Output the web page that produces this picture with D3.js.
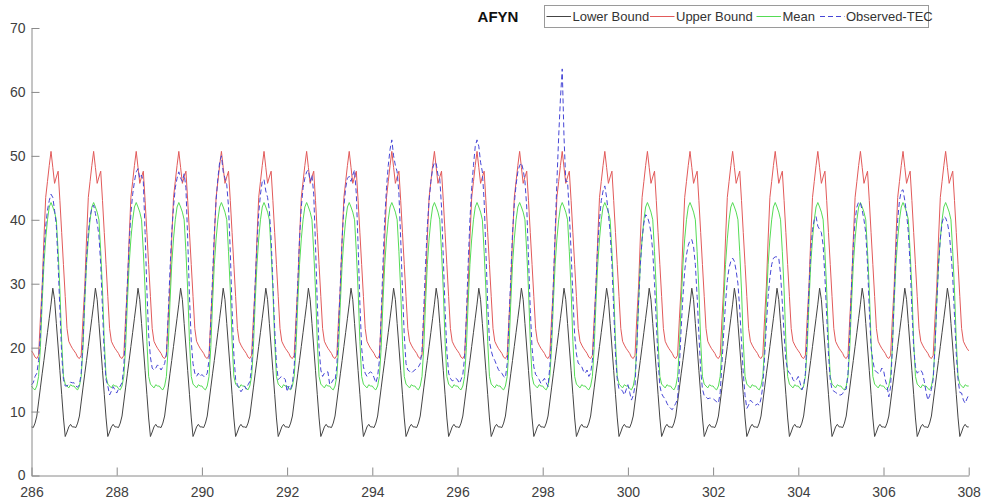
<!DOCTYPE html>
<html>
<head>
<meta charset="utf-8">
<script src="https://cdn.jsdelivr.net/npm/d3@7"></script>
<style>
  body { margin: 0; background: #fff; }
  svg { display: block; font-family: "Liberation Sans", Arial, sans-serif; }
</style>
</head>
<body>
<div id="wrapper"></div>
<script>
// Data
const days = [286, 287, 288, 289, 290, 291, 292, 293, 294, 295, 296, 297, 298, 299, 300, 301, 302, 303, 304, 305, 306, 307]
const hours = [0, 1, 2, 3, 4, 5, 6, 7, 8, 9, 10, 11, 12, 13, 14, 15, 16, 17, 18, 19, 20, 21, 22, 23]

// daily profiles of the bounds and the mean (same every day)
const lowerProfile = [7.6, 7.5, 8.2, 9.3, 11.5, 13.7, 15.9, 18.0, 20.2, 22.4, 24.6, 26.8, 29.3, 27.5, 23.8, 20.1, 16.4, 12.7, 9.0, 6.1, 6.8, 7.6, 8.0, 7.6]
const upperProfile = [19.5, 19.1, 18.5, 18.3, 18.8, 24.5, 29.5, 37.0, 43.5, 46.0, 48.5, 50.7, 48.2, 45.7, 46.7, 47.6, 43.0, 38.0, 33.0, 28.0, 23.0, 21.0, 20.4, 19.9]
const meanProfile = [14.0, 13.6, 13.4, 14.0, 15.5, 20.0, 27.0, 33.0, 37.0, 40.0, 42.0, 42.7, 42.0, 41.2, 40.0, 35.0, 29.0, 21.0, 15.5, 14.3, 14.0, 13.7, 14.2, 14.0]

// observed TEC, one row per day, hourly
const observedTec = [
  [14.2, 14.5, 15.5, 16, 18, 22, 29, 35, 39, 41.5, 43, 44, 43.5, 41.5, 39, 33, 26, 19, 15, 14, 14, 14.3, 14.6, 14.5],
  [14.5, 14, 13.8, 14.2, 16, 21, 28, 34, 38, 40.5, 41.8, 42.3, 41, 39.5, 37.5, 33, 26, 19, 15, 14, 12.6, 13.2, 13.9, 13.4],
  [12.9, 13.5, 14, 14.5, 17, 23, 30, 36, 41, 44, 46, 47.5, 48, 46.5, 47, 46, 38, 29, 22, 18.5, 16.8, 16.5, 16.8, 17.3],
  [17, 16.5, 17, 17.5, 19, 25, 32, 38, 42, 45, 46.5, 47.5, 46.5, 46, 47.2, 45, 37, 28, 21, 17.5, 16, 15.5, 16, 15.5],
  [15.8, 15.5, 15.5, 16, 18, 24, 31, 38, 43, 46.5, 49, 50, 47.5, 46.5, 45.5, 42, 35, 26, 19, 15, 14.2, 13.6, 13.1, 13.5],
  [14, 13.5, 14.2, 14.7, 17, 23, 30, 36, 41, 44, 46, 46.3, 44.5, 43.5, 41.5, 37, 30, 23, 17.5, 15, 15.3, 15.5, 15.3, 15],
  [13.1, 14, 13.5, 14.5, 17, 23, 30, 37, 42, 45, 46.5, 47.5, 47.8, 46, 47, 44, 36, 27, 20, 16.5, 15.5, 16, 16.2, 16.2],
  [14.2, 14.5, 15, 14.8, 17, 23, 30, 37, 42, 45, 46.5, 46.8, 46, 47, 47.8, 44, 36, 27, 20, 17, 16, 15.5, 16, 16.2],
  [16, 15.3, 14.5, 15.5, 18, 25, 33, 40, 45, 48.5, 51, 52.5, 50, 48.5, 47.5, 44, 37, 29, 22, 17.5, 16.5, 16.3, 16, 16.3],
  [16.5, 16.8, 17, 17.5, 19.5, 26, 33, 39, 43, 46, 48, 49, 48.8, 47, 46.5, 42, 34, 26, 19.5, 16, 15.2, 14.8, 14.9, 15.2],
  [15, 14.4, 15, 15.8, 18.5, 25, 33, 40, 45, 48.5, 51.5, 52.5, 51.5, 49, 47.5, 43, 35, 27, 21, 19.5, 18.5, 18, 17.3, 16.6],
  [16.2, 16, 15.5, 15.3, 17.5, 24, 31, 38, 42.5, 45.5, 47.5, 48.5, 48.9, 47.8, 46, 42, 34, 26, 20, 17, 15.8, 15.5, 15, 14.4],
  [14.8, 15.2, 14.5, 13.9, 17, 22, 30, 38, 46, 53, 59, 63.6, 53, 46, 46, 41, 35, 28, 22, 19, 17.6, 17.3, 17, 16.3],
  [16, 16.5, 15.5, 16, 18, 23, 30, 36, 40, 43, 44.5, 45.3, 43.5, 41, 38, 33, 26, 19, 15, 13.5, 13.5, 13.2, 12.6, 13.4],
  [14.2, 13, 11.8, 12.5, 14, 20, 27, 33, 37, 39.5, 40.8, 40.5, 39.5, 38, 35, 30, 24, 18, 14, 12.8, 12.3, 12, 11.3, 10.8],
  [10.5, 10.3, 10.8, 11.3, 12, 17, 23, 28, 32, 34.5, 36, 36.8, 36.9, 35.8, 33, 28, 22, 16.5, 13.5, 12.5, 12.3, 12, 12.1, 12.1],
  [12, 11.8, 11.5, 11.3, 13, 17.5, 22.5, 27, 30.5, 32.5, 33.5, 34, 33.5, 32, 30, 26, 21, 16, 12.5, 10.5, 11, 11.8, 11.5, 11.2],
  [11, 11.2, 11, 12, 14, 18.5, 23.5, 28, 31, 33, 34, 34.2, 34.2, 34, 31.5, 27, 22, 18, 16.5, 16, 15.8, 15, 14.7, 15],
  [15.5, 14.5, 13.4, 14, 16, 22, 29, 35, 38.5, 40, 40.5, 39, 38.5, 38, 36, 31, 25, 19, 15, 13.4, 13.2, 13, 12.8, 12.6],
  [12.6, 12.8, 13.4, 13.5, 16, 22, 30, 36, 40, 42, 42.8, 42.6, 41.5, 40, 38, 33, 26, 20, 18, 16.5, 16.2, 16, 16, 16.8],
  [16.5, 15, 14, 12.3, 13.9, 20, 28, 35, 40, 43, 44.5, 44.7, 43, 41, 38, 33, 26, 20, 17, 16, 16.3, 16.5, 16, 14.7],
  [13, 11.8, 12.5, 13.5, 15, 20, 27, 33, 37, 39.5, 40.5, 40.3, 39.5, 38, 35, 31, 25, 19, 15, 13, 12.9, 11.8, 11.3, 12]
]
const observedEnd = 12.6   // value at 308.0
const endDay = 308

const xTicks = [286, 288, 290, 292, 294, 296, 298, 300, 302, 304, 306, 308]
const yTicks = [0, 10, 20, 30, 40, 50, 60, 70]

const seriesNames = ["Lower Bound", "Upper Bound", "Mean", "Observed-TEC"]
const seriesColors = ["#444444", "#e25a5a", "#55dc55", "#4646d6"]
const seriesDash = [null, null, null, "5 3"]

// build the point lists
function tileProfile(profile) {
  const pts = []
  days.forEach(d => hours.forEach((h, i) => pts.push({ t: d + h / 24, v: profile[i] })))
  pts.push({ t: endDay, v: profile[0] })
  return pts
}
const observedPts = []
days.forEach((d, di) => hours.forEach((h, i) => observedPts.push({ t: d + h / 24, v: observedTec[di][i] })))
observedPts.push({ t: endDay, v: observedEnd })

const series = [
  tileProfile(lowerProfile),
  tileProfile(upperProfile),
  tileProfile(meanProfile),
  observedPts
]

// Mitat
const dimensions = {
  width: 985,
  height: 502,
  margin: { top: 28, right: 16.3, bottom: 26.5, left: 31.5 }
}
dimensions.boundedWidth = dimensions.width - dimensions.margin.left - dimensions.margin.right
dimensions.boundedHeight = dimensions.height - dimensions.margin.top - dimensions.margin.bottom

const wrapper = d3.select("#wrapper")
  .append("svg")
  .attr("width", dimensions.width)
  .attr("height", dimensions.height)

wrapper.append("rect")
  .attr("width", dimensions.width)
  .attr("height", dimensions.height)
  .attr("fill", "#fff")

const bounds = wrapper.append("g")
  .attr("transform", `translate(${dimensions.margin.left},${dimensions.margin.top})`)

// Skaalat
const xScale = d3.scaleLinear()
  .domain([286, 308])
  .range([0, dimensions.boundedWidth])

const yScale = d3.scaleLinear()
  .domain([0, 70])
  .range([dimensions.boundedHeight, 0])

// Viivat
const lineGenerator = d3.line()
  .x(d => xScale(d.t))
  .y(d => yScale(d.v))

series.forEach((pts, i) => {
  bounds.append("path")
    .attr("d", lineGenerator(pts))
    .attr("fill", "none")
    .attr("stroke", seriesColors[i])
    .attr("stroke-width", 1)
    .attr("stroke-dasharray", seriesDash[i])
    .attr("stroke-linejoin", "round")
})

// Akselit
const xAxis = bounds.append("g")
  .attr("transform", `translate(0,${dimensions.boundedHeight})`)
  .call(d3.axisBottom(xScale).tickValues(xTicks).tickFormat(d3.format("d"))
    .tickSizeInner(-8).tickSizeOuter(0).tickPadding(12))

const yAxis = bounds.append("g")
  .call(d3.axisLeft(yScale).tickValues(yTicks)
    .tickSizeInner(-8).tickSizeOuter(0).tickPadding(6))

;[xAxis, yAxis].forEach(ax => {
  ax.select(".domain").attr("stroke", "#8a8a8a")
  ax.selectAll(".tick line").attr("stroke", "#8a8a8a")
  ax.selectAll(".tick text")
    .attr("fill", "#404040")
    .attr("font-size", "14px")
    .attr("font-family", "'Liberation Sans', Arial, sans-serif")
})

// Otsikko
wrapper.append("text")
  .attr("x", 498)
  .attr("y", 22)
  .attr("text-anchor", "middle")
  .attr("font-size", "15px")
  .attr("font-weight", "bold")
  .attr("fill", "#111")
  .text("AFYN")

// Selite
const legend = wrapper.append("g")
legend.append("rect")
  .attr("x", 544.5)
  .attr("y", 5.5)
  .attr("width", 384)
  .attr("height", 22)
  .attr("fill", "#fff")
  .attr("stroke", "#9a9a9a")

const legendX = [546.5, 650, 756.5, 820]
seriesNames.forEach((name, i) => {
  legend.append("line")
    .attr("x1", legendX[i])
    .attr("x2", legendX[i] + 24.5)
    .attr("y1", 16.5)
    .attr("y2", 16.5)
    .attr("stroke", seriesColors[i])
    .attr("stroke-width", 1)
    .attr("stroke-dasharray", seriesDash[i])
  legend.append("text")
    .attr("x", legendX[i] + 26)
    .attr("y", 21.3)
    .attr("font-size", "13px")
    .attr("fill", "#333")
    .text(name)
})
</script>
</body>
</html>
